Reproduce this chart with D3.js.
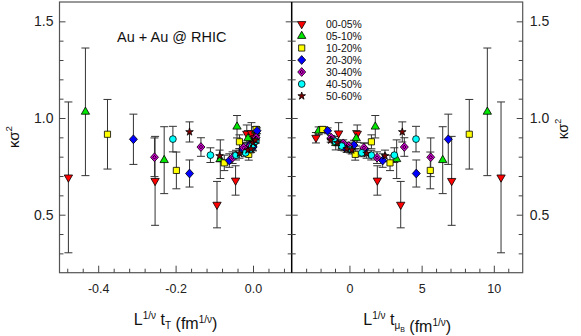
<!DOCTYPE html>
<html>
<head>
<meta charset="utf-8">
<script src="https://cdn.jsdelivr.net/npm/d3@7"></script>
<style>
    body { margin: 0; background: #fff; }
    svg { display: block; font-family: "Liberation Sans", Arial, sans-serif; }
    .axis path { display: none; }
    .axis line { stroke: #444; }
    .axis text { fill: #222; }
</style>
</head>
<body>
<div id="chart"></div>
<script>
// ---- data (rows = centrality, columns = 7.7, 11.5, 19.6, 27, 39, 62.4, 200 GeV) ----
const CENTRALITY = ['00-05%', '05-10%', '10-20%', '20-30%', '30-40%', '40-50%', '50-60%'];
const COLORS = ['#ff0000', '#00e600', '#ffff00', '#0000ff', '#cc00cc', '#00ffff', '#800000'];
const SHAPES = ['down', 'up', 'square', 'diamond', 'diamondDot', 'circle', 'star'];

const KS2 = [
    [0.693, 0.675, 0.552, 0.677, 0.919, 0.921, 0.898],
    [1.032, 0.782, 0.787, 0.955, 0.895, 0.870, 0.934],
    [0.916, 0.729, 0.768, 0.877, 0.812, 0.858, 0.941],
    [0.890, 0.713, 0.780, 0.840, 0.860, 0.850, 0.934],
    [0.797, 0.850, 0.795, 0.846, 0.855, 0.869, 0.898],
    [0.891, 0.808, 0.808, 0.820, 0.838, 0.855, 0.880],
    [0.928, 0.804, 0.817, 0.834, 0.840, 0.872, 0.885]
];
const KS2_ERR = [
    [0.39, 0.23, 0.12, 0.076, 0.045, 0.055, 0.027],
    [0.33, 0.173, 0.10, 0.058, 0.040, 0.035, 0.020],
    [0.18, 0.095, 0.040, 0.036, 0.030, 0.025, 0.015],
    [0.13, 0.070, 0.035, 0.030, 0.025, 0.020, 0.015],
    [0.10, 0.048, 0.030, 0.025, 0.020, 0.018, 0.012],
    [0.066, 0.038, 0.025, 0.020, 0.018, 0.015, 0.010],
    [0.052, 0.030, 0.025, 0.020, 0.018, 0.015, 0.010]
];
// L^(1/nu) t_T  (left panel)
const X_TT = [
    [-0.477, -0.253, -0.093, -0.045, -0.016, -0.004, 0.006],
    [-0.433, -0.2295, -0.0845, -0.0413, -0.013, -0.002, 0.007],
    [-0.376, -0.198, -0.0742, -0.035, -0.011, -0.001, 0.008],
    [-0.309, -0.164, -0.0612, -0.027, -0.009, 0.000, 0.0105],
    [-0.2546, -0.1345, -0.0527, -0.0242, -0.008, 0.001, 0.008],
    [-0.207, -0.110, -0.0439, -0.019, -0.007, -0.0025, 0.007],
    [-0.164, -0.0864, -0.035, -0.013, -0.005, 0.000, 0.006]
];
// L^(1/nu) t_muB  (right panel)
const X_TMU = [
    [10.5, 7.08, 3.55, 1.93, 0.54, -0.75, -2.32],
    [9.55, 6.46, 3.27, 1.79, 0.47, -0.95, -2.13],
    [8.30, 5.60, 2.81, 1.52, 0.40, -0.55, -1.85],
    [6.845, 4.63, 2.30, 1.05, 0.31, -0.35, -1.51],
    [5.63, 3.80, 1.91, 1.00, -0.05, -0.43, -1.26],
    [4.61, 3.11, 1.51, 0.85, 0.05, -0.54, -1.02],
    [3.66, 2.46, 1.19, 0.16, -0.19, -0.84, -1.30]
];

const Y_MAJOR = [0.5, 1.0, 1.5];
const Y_MINOR = [0.3, 0.4, 0.6, 0.7, 0.8, 0.9, 1.1, 1.2, 1.3, 1.4];
const XT_MAJOR = [-0.4, -0.2, 0.0];
const XT_MINOR = [-0.48, -0.44, -0.36, -0.32, -0.28, -0.24, -0.16, -0.12, -0.08, -0.04, 0.04, 0.08];
const XMU_MAJOR = [0, 5, 10];
const XMU_MINOR = [-3, -2, -1, 1, 2, 3, 4, 6, 7, 8, 9, 11];

// ---- layout ----
const W = 581, H = 336;
const L = 59.5, M = 291.7, R = 522.7, T = 2, B = 272.7;

const svg = d3.select('#chart').append('svg')
    .attr('width', W)
    .attr('height', H);

const xT = d3.scaleLinear().domain([-0.5, 0.1]).range([L, M]);
const xMu = d3.scaleLinear().domain([-4, 12]).range([M, R]);
const y = d3.scaleLinear().domain([0.2, 1.6]).range([B, T]);

// --- frame ---
svg.append('rect')
    .attr('x', L).attr('y', T)
    .attr('width', R - L).attr('height', B - T)
    .attr('fill', 'none')
    .attr('stroke', '#555')
    .attr('stroke-width', 1.2);

svg.append('line')
    .attr('x1', M).attr('x2', M)
    .attr('y1', T).attr('y2', B)
    .attr('stroke', '#000')
    .attr('stroke-width', 1.5);

// --- axes (inward ticks) ---
function addAxis(axis, tx, ty, labels) {
    const g = svg.append('g')
        .attr('class', 'axis')
        .attr('transform', `translate(${tx},${ty})`)
        .call(axis);
    if (!labels) g.selectAll('text').remove();
    return g;
}

const fmt1 = d => d.toFixed(1);

// y: left, middle (both sides), right
addAxis(d3.axisLeft(y).tickValues(Y_MINOR).tickSize(-4), L, 0, false);
addAxis(d3.axisLeft(y).tickValues(Y_MAJOR).tickSize(-6).tickPadding(6).tickFormat(fmt1), L, 0, true)
    .selectAll('text').attr('font-size', 14);
addAxis(d3.axisRight(y).tickValues(Y_MINOR).tickSize(-4), R, 0, false);
addAxis(d3.axisRight(y).tickValues(Y_MAJOR).tickSize(-6).tickPadding(7).tickFormat(fmt1), R, 0, true)
    .selectAll('text').attr('font-size', 14);
addAxis(d3.axisRight(y).tickValues(Y_MINOR).tickSize(-4), M, 0, false);
addAxis(d3.axisRight(y).tickValues(Y_MAJOR).tickSize(-6), M, 0, false);
addAxis(d3.axisLeft(y).tickValues(Y_MINOR).tickSize(-4), M, 0, false);
addAxis(d3.axisLeft(y).tickValues(Y_MAJOR).tickSize(-6), M, 0, false);

// x: left panel
addAxis(d3.axisBottom(xT).tickValues(XT_MINOR).tickSize(-4), 0, B, false);
addAxis(d3.axisBottom(xT).tickValues(XT_MAJOR).tickSize(-7).tickPadding(11).tickFormat(fmt1), 0, B, true)
    .selectAll('text').attr('font-size', 12.5);

// x: right panel
addAxis(d3.axisBottom(xMu).tickValues(XMU_MINOR).tickSize(-4), 0, B, false);
addAxis(d3.axisBottom(xMu).tickValues(XMU_MAJOR).tickSize(-7).tickPadding(11).tickFormat(d3.format('d')), 0, B, true)
    .selectAll('text').attr('font-size', 12.5);

// --- axis labels ---
function xLabel(cx, sub) {
    const t = svg.append('text')
        .attr('x', cx).attr('y', 325)
        .attr('text-anchor', 'middle')
        .attr('font-size', 16)
        .attr('fill', '#111');
    t.append('tspan').text('L');
    t.append('tspan').attr('font-size', 10).attr('dy', -6.5).text('1/\u03bd');
    t.append('tspan').attr('dy', 6.5).text(' t');
    sub(t);
    t.append('tspan').text(' (fm');
    t.append('tspan').attr('font-size', 10).attr('dy', -6.5).text('1/\u03bd');
    t.append('tspan').attr('dy', 6.5).text(')');
}

xLabel((L + M) / 2, t => {
    t.append('tspan').attr('font-size', 10).attr('dy', 4).text('T');
    t.append('tspan').attr('dy', -4).text('');
});
xLabel((M + R) / 2, t => {
    t.append('tspan').attr('font-size', 10).attr('dy', 4).text('\u03bc');
    t.append('tspan').attr('font-size', 7).attr('dy', 3).text('B');
    t.append('tspan').attr('dy', -7).text('');
});

function yLabel(cx, cy, size) {
    const t = svg.append('text')
        .attr('transform', `translate(${cx},${cy}) rotate(-90)`)
        .attr('text-anchor', 'middle')
        .attr('font-size', size)
        .attr('fill', '#111');
    t.append('tspan').text('\u03ba\u03c3');
    t.append('tspan').attr('font-size', size * 0.65).attr('dy', -7).text('2');
}
yLabel(18.5, 137, 15);
yLabel(567.5, 129, 14);

svg.append('text')
    .attr('x', 117).attr('y', 42)
    .attr('font-size', 14.5)
    .attr('fill', '#111')
    .text('Au + Au @ RHIC');

// --- markers ---
function markerPath(shape) {
    switch (shape) {
        case 'down':
        case 'up': return d3.symbol(d3.symbolTriangle, 30)();
        case 'square': return d3.symbol(d3.symbolSquare, 38)();
        case 'diamond':
        case 'diamondDot': return 'M0,-4.4L4,0L0,4.4L-4,0Z';
        case 'circle': return d3.symbol(d3.symbolCircle, 36)();
        case 'star': return d3.symbol(d3.symbolStar, 18)();
    }
}

function drawMarker(g, shape, color, px, py) {
    g.append('path')
        .attr('d', markerPath(shape))
        .attr('transform', `translate(${px},${py})` + (shape === 'down' ? ' rotate(180)' : ''))
        .attr('fill', color)
        .attr('stroke', '#000')
        .attr('stroke-width', 0.8);
    if (shape === 'diamondDot') {
        g.append('path')
            .attr('d', 'M0,-1.8L1.6,0L0,1.8L-1.6,0Z')
            .attr('transform', `translate(${px},${py})`)
            .attr('fill', 'none')
            .attr('stroke', '#000')
            .attr('stroke-width', 0.8);
    }
}

function drawPanel(xs, X) {
    const bars = svg.append('g').attr('stroke', '#333').attr('stroke-width', 1);
    CENTRALITY.forEach((c, i) => {
        KS2[i].forEach((v, j) => {
            const px = xs(X[i][j]);
            const y1 = y(v + KS2_ERR[i][j]), y2 = y(v - KS2_ERR[i][j]);
            bars.append('line').attr('x1', px).attr('x2', px).attr('y1', y1).attr('y2', y2);
            bars.append('line').attr('x1', px - 4).attr('x2', px + 4).attr('y1', y1).attr('y2', y1);
            bars.append('line').attr('x1', px - 4).attr('x2', px + 4).attr('y1', y2).attr('y2', y2);
        });
    });
    const marks = svg.append('g');
    CENTRALITY.forEach((c, i) => {
        KS2[i].forEach((v, j) => {
            drawMarker(marks, SHAPES[i], COLORS[i], xs(X[i][j]), y(v));
        });
    });
}

drawPanel(xT, X_TT);
drawPanel(xMu, X_TMU);

// --- legend ---
const legend = svg.append('g');
CENTRALITY.forEach((c, i) => {
    const ly = 24 + i * 12;
    drawMarker(legend, SHAPES[i], COLORS[i], 301.7, ly);
    legend.append('text')
        .attr('x', 326).attr('y', ly)
        .attr('dy', '0.36em')
        .attr('font-size', 10.4)
        .attr('fill', '#111')
        .text(c);
});
</script>
</body>
</html>
